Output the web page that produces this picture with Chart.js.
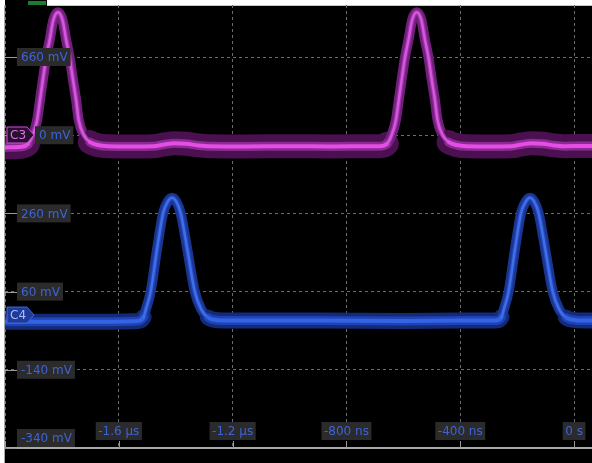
<!DOCTYPE html>
<html><head><meta charset="utf-8">
<script src="https://cdn.jsdelivr.net/npm/chart.js@4.4.1/dist/chart.umd.min.js"></script>
<style>
html,body{margin:0;padding:0;background:#fff;width:592px;height:463px;overflow:hidden;}
#frame{position:absolute;left:4px;top:5px;width:588px;height:458px;background:#000;border-left:1px solid #a8a8a8;border-top:1px solid #c8c8c8;box-sizing:border-box;}
#tab{position:absolute;left:5px;top:0;width:42px;height:6px;background:#000;}
#trig{position:absolute;left:28px;top:1px;width:18px;height:4px;background:#1e7a2e;}
#cv{position:absolute;left:5px;top:5px;}
</style></head><body>
<div id="frame"></div>
<div id="tab"></div><div id="trig"></div>
<canvas id="cv" width="587" height="458"></canvas>
<script>
// ---- data (time in ns, voltage in mV) ----
const xTickValues = [-2000, -1600, -1200, -800, -400, 0];
const xTickLabels = ['', '-1.6 µs', '-1.2 µs', '-800 ns', '-400 ns', '0 s'];
const yTickValues = [-340, -140, 60, 260, 460, 660];
const yTickLabels = ['-340 mV', '-140 mV', '60 mV', '260 mV', '0 mV', '660 mV'];

const c3Time = [-2000,-1944,-1919,-1902,-1887,-1877,-1867,-1855,-1843,-1830,-1814,-1798,-1785,-1773,-1761,-1750,-1741,-1723,-1702,-1674,-1639,-1560,-1480,-1440,-1405,-1365,-1320,-1280,-1150,-1000,-850,-720,-683,-658,-641,-626,-616,-606,-594,-582,-569,-553,-537,-524,-512,-500,-489,-480,-462,-441,-413,-378,-300,-220,-185,-150,-110,-70,-30,20,63];
const c3Mv   = [-105,-100,-75,0,127,295,464,658,802,971,1035,971,802,658,464,295,127,0,-59,-85,-95,-97,-95,-80,-70,-74,-88,-95,-97,-95,-97,-95,-95,-75,0,127,295,464,658,802,971,1035,971,802,658,464,295,127,0,-59,-85,-95,-97,-95,-80,-70,-74,-88,-95,-93,-93];

const c4Time = [-2000,-1700,-1533,-1513,-1505,-1488,-1466,-1444,-1428,-1413,-1398,-1383,-1359,-1333,-1310,-1287,-1253,-1150,-900,-600,-400,-275,-255,-247,-230,-208,-186,-170,-155,-140,-125,-101,-75,-52,-29,5,63];
const c4Mv   = [-17,-17,-15,-5,14,60,167,262,290,300,290,262,167,60,14,-6,-13,-14,-14,-15,-14,-14,-5,14,60,167,262,290,300,290,262,167,60,14,-6,-13,-14];

// ---- build datasets ----
function pts(ts, vs){ return ts.map((t,i)=>({x:t, y:vs[i]})); }
function layer(label, ts, vs, axis, order, wBase, wSlope, cBase, cSlope, thr){
  const isBase = c => c.p0.parsed.y < thr && c.p1.parsed.y < thr;
  return {
    label, data: pts(ts, vs), yAxisID: axis, order,
    borderColor: cSlope, borderWidth: wSlope,
    cubicInterpolationMode: 'monotone', pointRadius: 0, fill: false,
    borderJoinStyle: 'round', borderCapStyle: 'round',
    segment: {
      borderWidth: c => isBase(c) ? wBase : wSlope,
      borderColor: c => isBase(c) ? cBase : cSlope
    }
  };
}
const datasets = [
  layer('C3', c3Time, c3Mv, 'y3', 0, 4, 2.5, '#e44ee4', '#d458dc', -50),
  layer('C3m', c3Time, c3Mv, 'y3', 1, 9, 5, '#8a2a92', '#9a30a4', -50),
  layer('C3e', c3Time, c3Mv, 'y3', 2, 24, 10, '#4a1050', '#70207a', -50),
  layer('C4', c4Time, c4Mv, 'y4', 0, 4, 2.5, '#3464e4', '#3e6ee8', -3),
  layer('C4m', c4Time, c4Mv, 'y4', 1, 9, 5, '#1f42b4', '#2446b8', -3),
  layer('C4e', c4Time, c4Mv, 'y4', 2, 16, 10, '#132a78', '#1a3590', -3)
];

const FONT = '12px "DejaVu Sans"';
const BOX = '#2b2b2b', TXT = '#3e63d6';

const labelPlugin = {
  id: 'scopeLabels',
  afterDatasetsDraw(chart){
    const ctx = chart.ctx, a = chart.chartArea;
    const xs = chart.scales.x, y4 = chart.scales.y4, y3 = chart.scales.y3;
    ctx.save();
    // bottom axis
    ctx.strokeStyle = '#a8a8a8'; ctx.lineWidth = 2;
    ctx.beginPath(); ctx.moveTo(a.left, a.bottom); ctx.lineTo(a.right, a.bottom); ctx.stroke();
    // short solid tick segments
    ctx.lineWidth = 1; ctx.strokeStyle = '#9a9a9a';
    xTickValues.forEach(v => {
      const px = Math.round(xs.getPixelForValue(v)) + 0.5;
      ctx.beginPath(); ctx.moveTo(px, a.bottom); ctx.lineTo(px, a.bottom - 7); ctx.stroke();
    });
    yTickValues.forEach(v => {
      const py = Math.round(y4.getPixelForValue(v)) + 0.5;
      ctx.beginPath(); ctx.moveTo(a.left, py); ctx.lineTo(a.left + 12, py); ctx.stroke();
    });
    ctx.font = FONT; ctx.textBaseline = 'middle';
    // channel tags
    const tags = [
      {name:'C3', y: y3.getPixelForValue(0), fill:'#2a1030', stroke:'#d050d8', text:'#e070e8'},
      {name:'C4', y: y4.getPixelForValue(0), fill:'#1e3a9a', stroke:'#3a6ae8', text:'#a8bcff'}
    ];
    const tagL = a.left + 2, tagR = a.left + 22, tagTip = a.left + 29;
    tags.forEach(t => {
      ctx.beginPath();
      ctx.moveTo(tagL, t.y - 8); ctx.lineTo(tagR, t.y - 8); ctx.lineTo(tagTip, t.y);
      ctx.lineTo(tagR, t.y + 8); ctx.lineTo(tagL, t.y + 8); ctx.closePath();
      ctx.fillStyle = t.fill; ctx.fill();
      ctx.strokeStyle = t.stroke; ctx.lineWidth = 1; ctx.stroke();
      ctx.fillStyle = t.text; ctx.textAlign = 'left';
      ctx.fillText(t.name, tagL + 3, t.y + 1);
    });
    // y tick labels
    yTickValues.forEach((v, i) => {
      const lab = yTickLabels[i]; if (!lab) return;
      let cy = y4.getPixelForValue(v);
      const w = ctx.measureText(lab).width + 7, h = 18;
      let top = cy - h/2;
      if (top + h > a.bottom - 1) top = a.bottom - 1 - h;
      let left = a.left + 12;
      tags.forEach(t => { if (Math.abs(t.y - cy) < 10) left = tagTip + 1; });
      ctx.fillStyle = BOX; ctx.fillRect(left, top, w, h);
      ctx.fillStyle = TXT; ctx.textAlign = 'left';
      ctx.fillText(lab, left + 4, top + h/2 + 1);
    });
    // x tick labels
    xTickValues.forEach((v, i) => {
      const lab = xTickLabels[i]; if (!lab) return;
      const px = xs.getPixelForValue(v);
      const w = ctx.measureText(lab).width + 5, h = 18;
      const top = a.bottom - 26;
      ctx.fillStyle = BOX; ctx.fillRect(px - w/2, top, w, h);
      ctx.fillStyle = TXT; ctx.textAlign = 'center';
      ctx.fillText(lab, px, top + h/2 + 1);
    });
    ctx.restore();
  }
};

const gridOpts = {color:'#6c6c6c', lineWidth:1, drawTicks:false};
new Chart(document.getElementById('cv'), {
  type: 'line',
  data: { datasets },
  options: {
    responsive: false, animation: false, devicePixelRatio: 1,
    layout: {padding: {left:0, right:0, top:0, bottom:15}},
    plugins: {legend:{display:false}, tooltip:{enabled:false}},
    elements: {point:{radius:0}},
    scales: {
      x: {type:'linear', min:-2000, max:63,
          afterBuildTicks: s => { s.ticks = xTickValues.map(v => ({value:v})); },
          afterFit: s => { s.height = 0; },
          ticks:{display:false}, grid:gridOpts, border:{display:false, dash:[3,3]}},
      y4: {type:'linear', position:'left', min:-340, max:793,
          afterBuildTicks: s => { s.ticks = yTickValues.map(v => ({value:v})); },
          afterFit: s => { s.width = 0; },
          ticks:{display:false}, grid:gridOpts, border:{display:false, dash:[3,3]}},
      y3: {type:'linear', display:false, min:-2642, max:1097}
    }
  },
  plugins: [labelPlugin]
});
</script>
</body></html>
